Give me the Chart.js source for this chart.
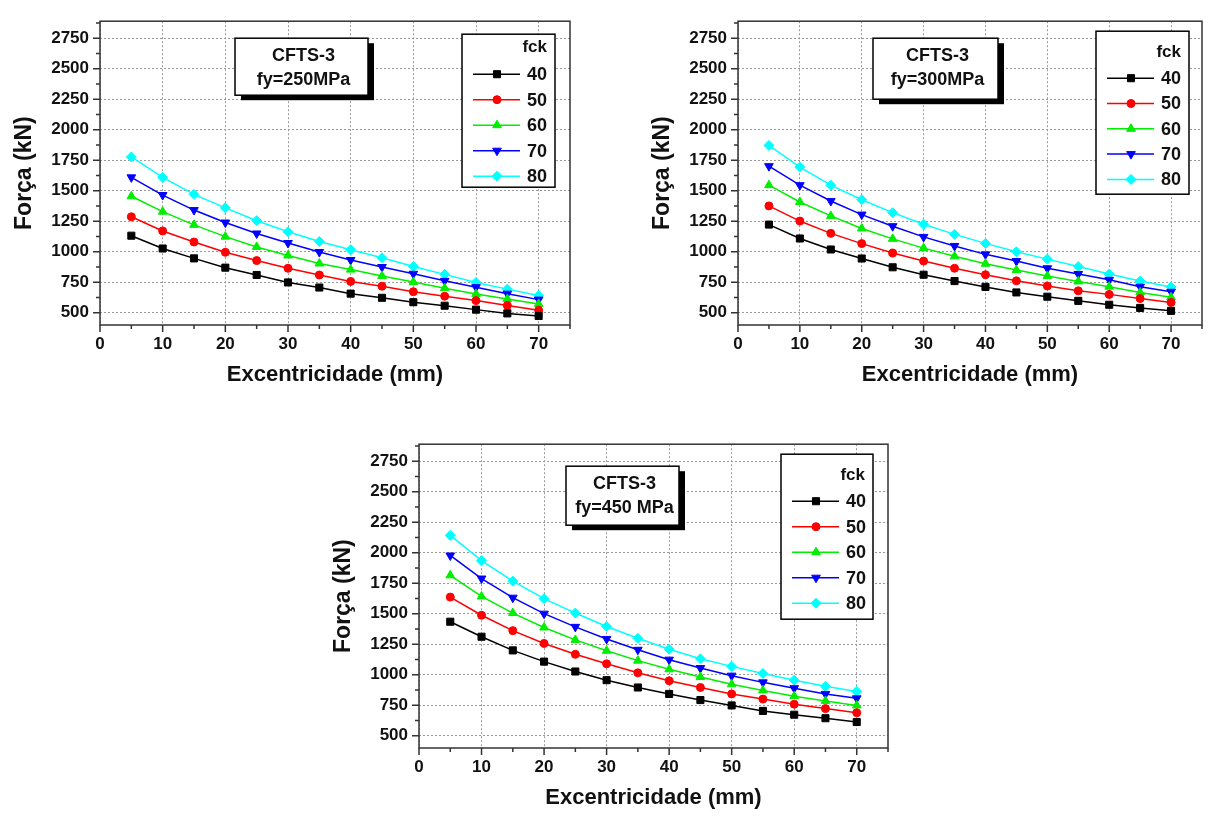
<!DOCTYPE html>
<html lang="pt">
<head>
<meta charset="utf-8">
<title>CFTS-3 - Força x Excentricidade</title>
<script src="https://cdn.jsdelivr.net/npm/chart.js@4.4.0/dist/chart.umd.min.js"></script>
<style>
  html, body { margin: 0; padding: 0; background: #fff; }
  body { width: 1208px; height: 817px; position: relative; overflow: hidden; }
  canvas { position: absolute; }
</style>
</head>
<body>
<canvas id="g250" width="580" height="400" style="left:0;top:0"></canvas>
<canvas id="g300" width="570" height="400" style="left:638px;top:0"></canvas>
<canvas id="g450" width="580" height="400" style="left:319px;top:423px"></canvas>
<script>
// Dados
const excentricidade = [5, 10, 15, 20, 25, 30, 35, 40, 45, 50, 55, 60, 65, 70];
const fck = ['40', '50', '60', '70', '80'];
const xTicks = [0, 10, 20, 30, 40, 50, 60, 70];
const yTicks = [500, 750, 1000, 1250, 1500, 1750, 2000, 2250, 2500, 2750];

// fy = 250 MPa
const fy250_40 = [1132, 1027, 946, 870, 810, 749, 707, 657, 623, 587, 558, 526, 495, 474];
const fy250_50 = [1287, 1171, 1080, 996, 928, 865, 810, 757, 718, 673, 636, 600, 560, 521];
const fy250_60 = [1455, 1329, 1221, 1124, 1040, 970, 904, 854, 802, 752, 702, 655, 613, 573];
const fy250_70 = [1610, 1465, 1342, 1240, 1150, 1072, 998, 933, 875, 820, 762, 710, 657, 608];
const fy250_80 = [1777, 1610, 1471, 1360, 1255, 1164, 1085, 1017, 951, 880, 815, 749, 694, 642];

// fy = 300 MPa
const fy300_40 = [1223, 1109, 1019, 945, 873, 812, 760, 712, 667, 632, 598, 566, 540, 516];
const fy300_50 = [1376, 1252, 1151, 1067, 990, 924, 865, 812, 762, 720, 680, 651, 617, 585];
const fy300_60 = [1546, 1408, 1294, 1191, 1106, 1030, 963, 902, 850, 802, 757, 714, 667, 627];
const fy300_70 = [1702, 1546, 1416, 1305, 1210, 1122, 1048, 979, 924, 865, 818, 770, 714, 672];
const fy300_80 = [1872, 1694, 1546, 1427, 1321, 1226, 1143, 1069, 1000, 940, 879, 818, 760, 712];

// fy = 450 MPa
const fy450_40 = [1435, 1312, 1200, 1108, 1027, 956, 896, 843, 793, 749, 704, 673, 644, 613];
const fy450_50 = [1637, 1488, 1362, 1257, 1168, 1090, 1016, 951, 896, 843, 801, 759, 723, 689];
const fy450_60 = [1815, 1642, 1506, 1388, 1286, 1197, 1116, 1045, 982, 922, 872, 825, 786, 749];
const fy450_70 = [1978, 1789, 1632, 1501, 1393, 1294, 1205, 1124, 1055, 993, 938, 890, 843, 807];
const fy450_80 = [2143, 1936, 1768, 1624, 1506, 1396, 1299, 1210, 1131, 1069, 1011, 956, 906, 864];

// Estilo das séries
const cores = ['#000000', '#ff0000', '#00ee00', '#0000ff', '#00ffff'];
const marcadores = ['rect', 'circle', 'triangle', 'triangle', 'rectRot'];
const rotacoes = [0, 0, 0, 180, 0];
const raios = [5, 4, 5, 5, 5];

const FONTE = "'Liberation Sans', Arial, Helvetica, sans-serif";

function criarDatasets(series) {
    return series.map((valores, i) => ({
        label: fck[i],
        data: excentricidade.map((x, j) => ({ x: x, y: valores[j] })),
        borderColor: cores[i],
        backgroundColor: cores[i],
        borderWidth: 1.5,
        pointStyle: marcadores[i],
        pointRotation: rotacoes[i],
        pointRadius: raios[i],
        pointBackgroundColor: cores[i],
        pointBorderColor: cores[i],
        pointBorderWidth: 1,
        tension: 0
    }));
}

function desenharMarcador(ctx, ds, x, y) {
    ctx.fillStyle = ds.pointBackgroundColor;
    ctx.strokeStyle = ds.pointBorderColor;
    ctx.lineWidth = 1;
    Chart.helpers.drawPoint(ctx, {
        pointStyle: ds.pointStyle,
        rotation: ds.pointRotation,
        radius: ds.pointRadius,
        borderWidth: 1
    }, x, y);
}

// Moldura, marcas dos eixos, caixa de título e legenda
const decoracao = {
    id: 'decoracao',
    afterDraw(chart, args, opts) {
        const ctx = chart.ctx;
        const a = chart.chartArea;
        const xs = chart.scales.x;
        const ys = chart.scales.y;
        ctx.save();

        // marcas dos eixos (maiores e menores)
        ctx.strokeStyle = '#333';
        ctx.lineWidth = 1.5;
        ctx.beginPath();
        const meioX = (xTicks[1] - xTicks[0]) / 2;
        xTicks.forEach(v => {
            let p = xs.getPixelForValue(v);
            ctx.moveTo(p, a.bottom);
            ctx.lineTo(p, a.bottom + 7);
            if (v + meioX <= xs.max) {
                p = xs.getPixelForValue(v + meioX);
                ctx.moveTo(p, a.bottom);
                ctx.lineTo(p, a.bottom + 4);
            }
        });
        const meioY = (yTicks[1] - yTicks[0]) / 2;
        yTicks.forEach(v => {
            let p = ys.getPixelForValue(v);
            ctx.moveTo(a.left, p);
            ctx.lineTo(a.left - 7, p);
            if (v + meioY <= ys.max) {
                p = ys.getPixelForValue(v + meioY);
                ctx.moveTo(a.left, p);
                ctx.lineTo(a.left - 4, p);
            }
        });
        ctx.stroke();
        ctx.strokeRect(a.left, a.top, a.right - a.left, a.bottom - a.top);

        // caixa com sombra
        const c = opts.caixa;
        const cx = a.left + c.dx;
        const cy = a.top + c.dy;
        ctx.fillStyle = '#000';
        ctx.fillRect(cx + 6, cy + 5, c.w, c.h);
        ctx.fillStyle = '#fff';
        ctx.fillRect(cx, cy, c.w, c.h);
        ctx.strokeStyle = '#000';
        ctx.lineWidth = 1.5;
        ctx.strokeRect(cx, cy, c.w, c.h);
        ctx.fillStyle = '#111';
        ctx.font = 'bold 18px ' + FONTE;
        ctx.textAlign = 'center';
        ctx.textBaseline = 'middle';
        ctx.fillText(c.linhas[0], cx + c.w / 2 + 2, cy + 18);
        ctx.fillText(c.linhas[1], cx + c.w / 2 + 2, cy + 42);

        // legenda
        const l = opts.legenda;
        const lx = a.right - l.dxDireita - l.w;
        const ly = a.top + l.dy;
        ctx.fillStyle = '#fff';
        ctx.fillRect(lx, ly, l.w, l.h);
        ctx.strokeStyle = '#000';
        ctx.lineWidth = 1.5;
        ctx.strokeRect(lx, ly, l.w, l.h);
        ctx.fillStyle = '#111';
        ctx.font = 'bold 17px ' + FONTE;
        ctx.textAlign = 'right';
        ctx.fillText('fck', lx + l.w - 8, ly + l.tituloDy);
        chart.data.datasets.forEach((ds, i) => {
            const y = ly + l.linhaDy + i * l.passo;
            ctx.strokeStyle = ds.borderColor;
            ctx.lineWidth = 1.5;
            ctx.beginPath();
            ctx.moveTo(lx + 11, y);
            ctx.lineTo(lx + 58, y);
            ctx.stroke();
            desenharMarcador(ctx, ds, lx + 35, y);
            ctx.fillStyle = '#111';
            ctx.font = 'bold 18px ' + FONTE;
            ctx.textAlign = 'left';
            ctx.fillText(ds.label, lx + 65, y + 1);
        });

        ctx.restore();
    }
};

function criarGrafico(id, series, caixa, legenda, margem) {
    new Chart(document.getElementById(id), {
        type: 'line',
        data: { datasets: criarDatasets(series) },
        options: {
            responsive: false,
            animation: false,
            layout: { padding: margem },
            plugins: {
                legend: { display: false },
                tooltip: { enabled: false },
                decoracao: { caixa: caixa, legenda: legenda }
            },
            scales: {
                x: {
                    type: 'linear',
                    min: 0,
                    max: 75,
                    afterBuildTicks: s => { s.ticks = xTicks.map(v => ({ value: v })); },
                    afterFit: s => { s.height = 75; },
                    grid: { color: '#9a9a9a', lineWidth: 1, drawTicks: false },
                    border: { display: false, dash: [2, 2] },
                    ticks: {
                        padding: 9,
                        color: '#111',
                        maxRotation: 0,
                        callback: v => String(v),
                        font: { family: FONTE, size: 17, weight: 'bold' }
                    },
                    title: {
                        display: true,
                        text: 'Excentricidade (mm)',
                        color: '#111',
                        padding: { top: 0, bottom: 12 },
                        font: { family: FONTE, size: 22, weight: 'bold' }
                    }
                },
                y: {
                    type: 'linear',
                    min: 400,
                    max: 2890,
                    afterBuildTicks: s => { s.ticks = yTicks.map(v => ({ value: v })); },
                    afterFit: s => { s.width = 100; },
                    grid: { color: '#9a9a9a', lineWidth: 1, drawTicks: false },
                    border: { display: false, dash: [2, 2] },
                    ticks: {
                        padding: 11,
                        color: '#111',
                        callback: v => String(v),
                        font: { family: FONTE, size: 17, weight: 'bold' }
                    },
                    title: {
                        display: true,
                        text: 'Força (kN)',
                        color: '#111',
                        padding: { top: 11, bottom: 0 },
                        font: { family: FONTE, size: 23, weight: 'bold' }
                    }
                }
            }
        },
        plugins: [decoracao]
    });
}

// Inicialização
criarGrafico('g250',
    [fy250_40, fy250_50, fy250_60, fy250_70, fy250_80],
    { dx: 135, dy: 17, w: 133, h: 57, linhas: ['CFTS-3', 'fy=250MPa'] },
    { dxDireita: 15, dy: 13, w: 93, h: 153, tituloDy: 13, linhaDy: 40, passo: 25.5 },
    { top: 7, right: 10, left: 0, bottom: 0 });

criarGrafico('g300',
    [fy300_40, fy300_50, fy300_60, fy300_70, fy300_80],
    { dx: 135, dy: 17, w: 125, h: 61, linhas: ['CFTS-3', 'fy=300MPa'] },
    { dxDireita: 13, dy: 10, w: 93, h: 163, tituloDy: 21, linhaDy: 47, passo: 25.3 },
    { top: 12, right: 2, left: 0, bottom: 0 });

criarGrafico('g450',
    [fy450_40, fy450_50, fy450_60, fy450_70, fy450_80],
    { dx: 147, dy: 22, w: 113, h: 59, linhas: ['CFTS-3', 'fy=450 MPa'] },
    { dxDireita: 15, dy: 10, w: 92, h: 165, tituloDy: 21, linhaDy: 47, passo: 25.5 },
    { top: 9, right: 11, left: 0, bottom: 0 });
</script>
</body>
</html>
